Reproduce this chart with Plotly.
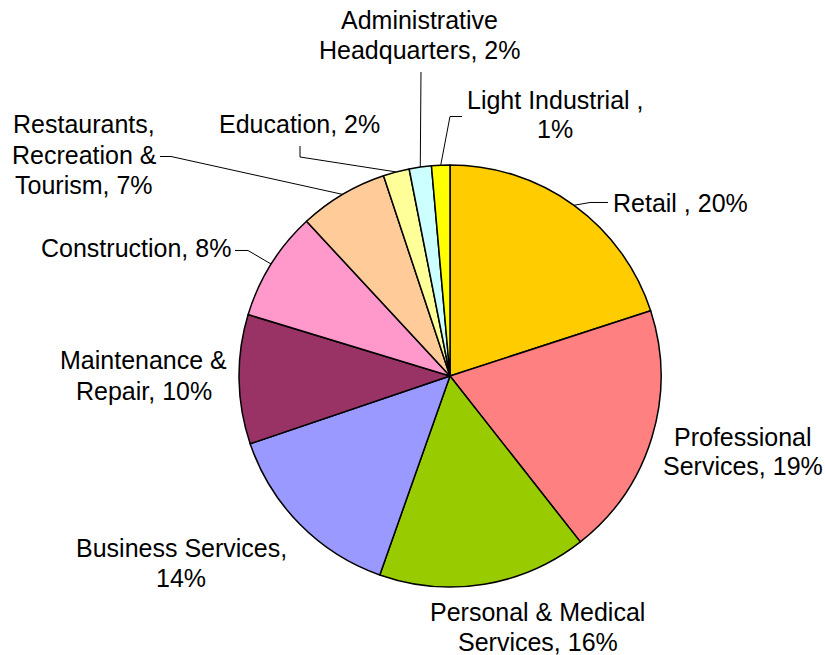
import math
import plotly.graph_objects as go

# ---- data -------------------------------------------------------------
categories = [
    "Retail ",
    "Professional Services",
    "Personal & Medical Services",
    "Business Services",
    "Maintenance & Repair",
    "Construction",
    "Restaurants, Recreation & Tourism",
    "Education",
    "Administrative Headquarters",
    "Light Industrial ",
]
shares = [20.0, 19.4, 16.0, 14.4, 9.9, 8.4, 6.8, 2.0, 1.7, 1.4]

colors = [
    "#FFCC00", "#FF8080", "#99CC00", "#9999FF", "#993366",
    "#FF99CC", "#FFCC99", "#FFFF99", "#CCFFFF", "#FFFF00",
]

# ---- geometry (pixels) ------------------------------------------------
W, H = 825, 655
CX, CY, R = 450, 376, 211
FONT = dict(family="Liberation Sans, Arial, sans-serif", size=25, color="black")
LINE_PITCH = 30

# label placement: centre x, first baseline y, words per line, leader waypoints
label_layout = [
    (680, 212, [3], [(590, 202.5), (608, 202.5)]),
    (743, 445, [1, 2], None),
    (537.5, 620, [3, 2], None),
    (181, 556, [2, 1], None),
    (143.5, 369, [2, 2], None),
    (136, 257, [2], [(248, 250.5), (235, 250.5)]),
    (84, 133, [1, 2, 2], [(171, 156.5), (160, 156.5)]),
    (299.5, 133, [2], [(300, 157), (300, 146)]),
    (420, 29, [1, 2], [(421, 72)]),
    (555, 108, [3, 1], [(450, 116.5), (462, 116.5)]),
]


def px(x):
    return x / W


def py(y):
    return 1 - y / H


total = sum(shares)

fig = go.Figure(
    go.Pie(
        labels=categories,
        values=shares,
        sort=False,
        direction="clockwise",
        rotation=0,
        marker=dict(colors=colors, line=dict(color="black", width=1.5)),
        textinfo="none",
        hoverinfo="label+percent",
        showlegend=False,
        domain=dict(
            x=[(CX - R) / W, (CX + R) / W],
            y=[(H - CY - R) / H, (H - CY + R) / H],
        ),
    )
)

annotations = []
shapes = []
cum = 0.0
for name, v, (lx, base, words, leader) in zip(categories, shares, label_layout):
    pct = round(v / total * 100)
    text = f"{name}, {pct}%"
    tokens = text.split(" ")
    lines = []
    i = 0
    for n in words:
        lines.append(" ".join(tokens[i:i + n]))
        i += n
    for k, line in enumerate(lines):
        annotations.append(dict(
            x=px(lx), y=py(base + k * LINE_PITCH - 8.5),
            xref="paper", yref="paper",
            xanchor="center", yanchor="middle",
            text=line, showarrow=False, font=FONT,
        ))
    # leader line from the slice's mid-point on the rim
    mid = (cum + v / 2) / total * 2 * math.pi
    cum += v
    if leader:
        pts = [(CX + R * math.sin(mid), CY - R * math.cos(mid))] + list(leader)
        path = "M " + " L ".join(f"{px(x):.5f},{py(y):.5f}" for x, y in pts)
        shapes.append(dict(
            type="path", path=path, xref="paper", yref="paper",
            line=dict(color="black", width=1),
        ))

fig.update_layout(
    width=W, height=H,
    margin=dict(l=0, r=0, t=0, b=0),
    paper_bgcolor="white",
    plot_bgcolor="white",
    annotations=annotations,
    shapes=shapes,
)

fig.write_html("out.html")
